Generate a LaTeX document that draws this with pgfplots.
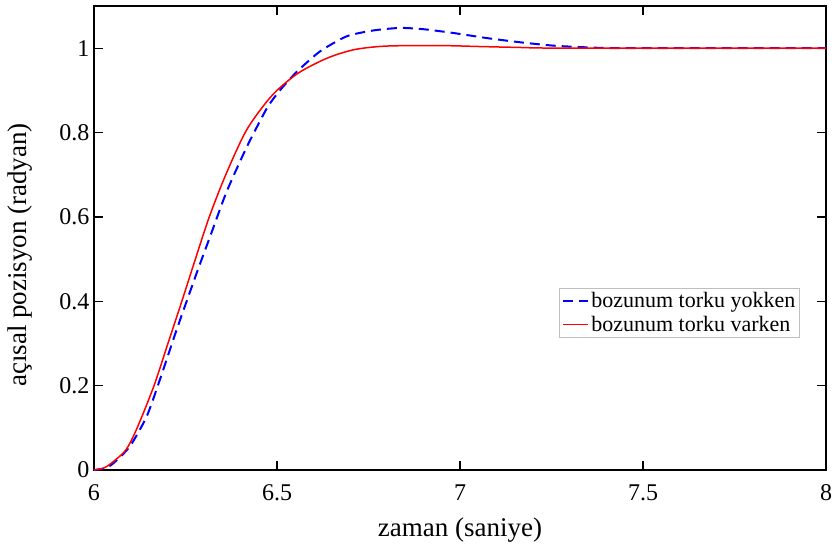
\documentclass[border=0pt]{standalone}
\usepackage{fontspec}
\setmainfont{Liberation Serif}
\usepackage{pgfplots}
\pgfplotsset{compat=1.18}
\begin{document}
\begin{tikzpicture}
\begin{axis}[
  scale only axis,
  width=732bp, height=464bp,
  xmin=6, xmax=8, ymin=0, ymax=1.1,
  xtick={6,6.5,7,7.5,8},
  ytick={0,0.2,0.4,0.6,0.8,1},
  /pgf/number format/assume math mode=true,
  tick label style={font=\fontsize{24bp}{28bp}\selectfont},
  xticklabel style={yshift=-11bp},
  yticklabel style={xshift=-1bp},
  label style={font=\fontsize{27bp}{31bp}\selectfont},
  xlabel={zaman (saniye)},
  ylabel={açısal pozisyon (radyan)},
  xlabel style={yshift=-10bp},
  ylabel style={yshift=20bp, xshift=-17bp},
  axis line style={line width=1.3bp},
  major tick length=9bp,
  tick style={line width=1.2bp, black},
  tick align=inside,
  legend style={at={(0.964,0.392)}, anchor=north east, draw=gray!50, line width=0.6bp,
    font=\fontsize{22bp}{24bp}\selectfont, inner sep=2bp, row sep=3bp,
    /tikz/every even column/.append style={column sep=0bp}},
  legend cell align=left,
  legend image post style={xscale=1.5},
  clip=true,
]
\addplot[blue, line width=2bp, dash pattern=on 10bp off 6bp, smooth, tension=0.4] coordinates {
(6,0) (6.03,0.004) (6.053,0.016) (6.098,0.056) (6.144,0.127) (6.18,0.214) (6.226,0.333) (6.281,0.468) (6.32,0.56) (6.362,0.659) (6.417,0.765) (6.472,0.857) (6.508,0.9) (6.554,0.944) (6.617,0.992) (6.69,1.028) (6.763,1.042) (6.836,1.048) (6.9,1.045) (6.982,1.036) (7.073,1.024) (7.164,1.014) (7.255,1.006) (7.346,1.002) (7.45,1.0) (8,1.0)
};
\addlegendentry{bozunum torku yokken}
\addplot[red, line width=1.5bp, smooth, tension=0.5] coordinates {
(6,0) (6.03,0.006) (6.06,0.025) (6.089,0.05) (6.118,0.1) (6.164,0.2) (6.202,0.3) (6.24,0.4) (6.277,0.5) (6.315,0.6) (6.36,0.7) (6.413,0.8) (6.46,0.86) (6.5,0.9) (6.56,0.942) (6.636,0.976) (6.708,0.996) (6.78,1.004) (6.85,1.006) (6.96,1.006) (7.05,1.004) (7.15,1.002) (7.3,1.0) (8,1.0)
};
\addlegendentry{bozunum torku varken}
\end{axis}
\pgfresetboundingbox
\path[use as bounding box] ([shift={(-94bp,-75bp)}]current axis.south west) rectangle ([shift={(8bp,6bp)}]current axis.north east);
\end{tikzpicture}
\end{document}
